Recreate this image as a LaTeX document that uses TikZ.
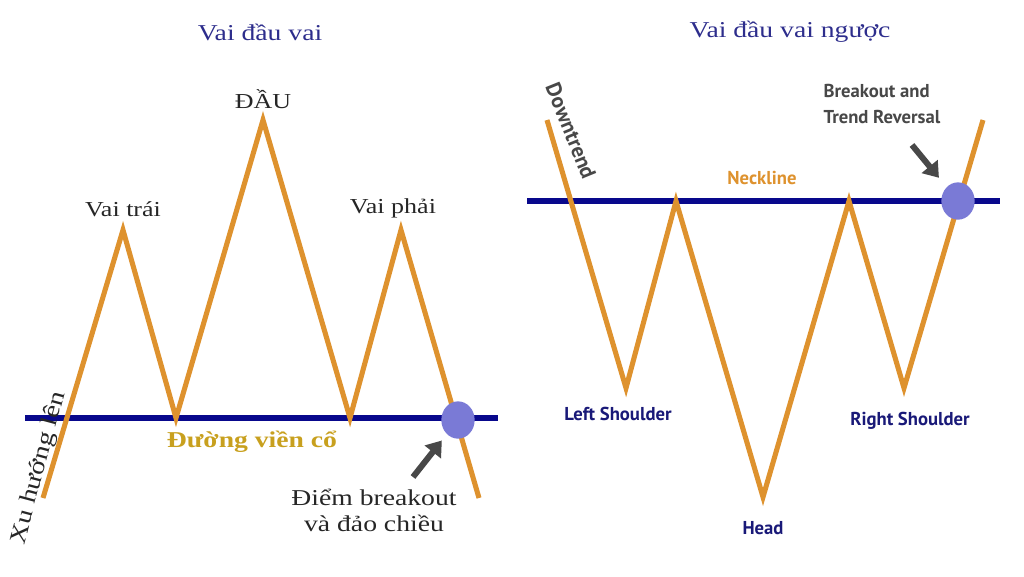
\documentclass[tikz,border=0pt]{standalone}
\usepackage{fontspec}
\setmainfont{Liberation Serif}[FakeStretch=1.22]
\newfontfamily\labelsans{PT Sans}
\usetikzlibrary{positioning,arrows.meta,shapes.geometric}
\definecolor{hsOrange}{RGB}{222,146,46}
\definecolor{hsNavy}{RGB}{8,8,140}
\definecolor{hsDot}{RGB}{122,122,214}
\definecolor{hsTitle}{RGB}{45,45,140}
\definecolor{hsGold}{RGB}{200,160,30}
\definecolor{hsGray}{RGB}{72,72,72}
\definecolor{hsInk}{RGB}{25,25,120}

\begin{document}
\begin{tikzpicture}[
    x=0.75pt, y=-0.75pt,
    price line/.style={hsOrange, line width=3.8pt, line join=miter},
    neck line/.style={hsNavy, line width=3.8pt},
    break dot/.style={ellipse, fill=hsDot, minimum width=25pt, minimum height=28pt, inner sep=0pt},
    pointer/.style={hsGray, line width=4.5pt, -{Triangle[length=11pt, width=15pt]}},
    title note/.style={font=\fontsize{17}{20}\selectfont, text=hsTitle, inner sep=1pt},
    serif note/.style={font=\fontsize{16}{19.5}\selectfont, text=black!85, inner sep=1pt},
    sans note/.style={font=\labelsans\bfseries\fontsize{14}{19.5}\selectfont, text=hsInk, inner sep=1pt}
]
  \useasboundingbox (0,0) rectangle (1024,576);

  % head and shoulders
  \coordinate (l0) at (43,498);
  \coordinate (l1) at (123,230);
  \coordinate (l2) at (176,418);
  \coordinate (l3) at (263,120);
  \coordinate (l4) at (350,418);
  \coordinate (l5) at (401,230);
  \coordinate (l6) at (479,498);
  \coordinate (lneckA) at (25,418);
  \coordinate (lneckB) at (498,418);

  \draw[neck line] (lneckA) -- (lneckB);
  \draw[price line] (l0) -- (l1) -- (l2) -- (l3) -- (l4) -- (l5) -- (l6);
  \node[break dot] (lbreak) at (458,420) {};

  \node[title note] (ltitle) at (260,32) {Vai đầu vai};
  \node[serif note] (lhead) [above=7pt of l3] {ĐẦU};
  \node[serif note] (lleft) [above=9pt of l1] {Vai trái};
  \node[serif note] (lright) [above=8pt of l5, xshift=-6pt] {Vai phải};
  \node[serif note, font=\bfseries\fontsize{17}{20}\selectfont, text=hsGold] (lneck) at (252,442) {Đường viền cổ};
  \node[serif note, font=\fontsize{17}{19.5}\selectfont, align=center] (lnote) at (374,510) {Điểm breakout\\và đảo chiều};
  \node[serif note, font=\fontsize{17.5}{20}\selectfont, rotate=75] (lup) at (39,468) {Xu hướng lên};

  \coordinate (lptr) at (413,477);
  \draw[pointer, shorten >=6pt] (lptr) -- (lbreak);

  % inverse head and shoulders
  \coordinate (r0) at (547,120);
  \coordinate (r1) at (626,388);
  \coordinate (r2) at (676,201);
  \coordinate (r3) at (763,497);
  \coordinate (r4) at (849,201);
  \coordinate (r5) at (904,388);
  \coordinate (r6) at (983,120);
  \coordinate (rneckA) at (527,201);
  \coordinate (rneckB) at (1000,201);

  \draw[neck line] (rneckA) -- (rneckB);
  \draw[price line] (r0) -- (r1) -- (r2) -- (r3) -- (r4) -- (r5) -- (r6);
  \node[break dot] (rbreak) at (958,201) {};

  \node[title note] (rtitle) at (790,32) {Vai đầu vai ngược};
  \node[sans note, text=hsOrange] (rneck) at (762,178) {Neckline};
  \node[sans note, text=hsGray, align=left, anchor=west] (rnote) at (822,104) {Breakout and\\Trend Reversal};
  \node[sans note, text=hsGray, font=\labelsans\bfseries\fontsize{16}{19}\selectfont, rotate=-68] (rdown) at (571,131) {Downtrend};
  \node[sans note] (rleft) at (618,414) {Left Shoulder};
  \node[sans note] (rhead) at (763,528) {Head};
  \node[sans note] (rright) at (910,421) {Right Shoulder};

  \coordinate (rptr) at (912,145);
  \draw[pointer, shorten >=9pt] (rptr) -- (rbreak);
\end{tikzpicture}
\end{document}
